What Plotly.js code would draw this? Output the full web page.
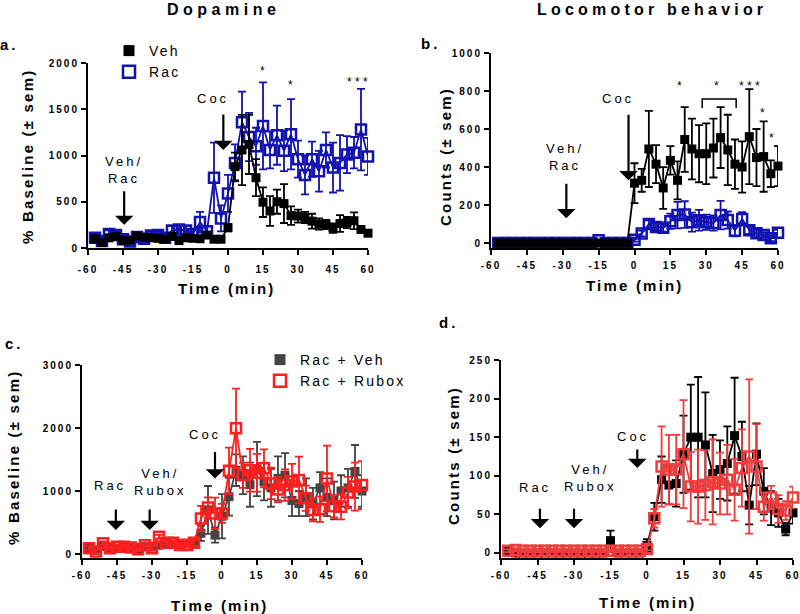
<!DOCTYPE html>
<html><head><meta charset="utf-8">
<script src="https://cdn.plot.ly/plotly-3.0.1.min.js"></script>
<style>
body{margin:0;background:#fff}
#chart{width:800px;height:614px}
</style></head><body><div id="chart"></div>
<script>
// ---------- DATA ----------
const time = [-57,-54,-51,-48,-45,-42,-39,-36,-33,-30,-27,-24,-21,-18,-15,-12,-9,-6,-3,0,3,6,9,12,15,18,21,24,27,30,33,36,39,42,45,48,51,54,57,60];
const xTickVals = [-60,-45,-30,-15,0,15,30,45,60];
const xTickText = ['-60','-45','-30','-15','0','15','30','45','60'];
const yTicksA = [0,500,1000,1500,2000];
const yTicksB = [0,200,400,600,800,1000];
const yTicksC = [0,1000,2000,3000];
const yTicksD = [0,50,100,150,200,250];

// a. Dopamine (% baseline)
const daVeh    = [100,60,110,125,80,85,130,115,110,105,95,125,80,110,105,100,140,95,95, 220,880,1060,1120,760,495,400,500,480,350,345,330,290,260,255,215,265,275,295,200,160];
const daVehSem = [30,25,30,25,25,20,30,25,25,20,20,30,25,25,20,25,30,20,20, 40,150,380,320,200,160,160,130,210,100,70,60,80,60,50,50,90,60,90,40,30];
const daRac    = [110,75,150,140,95,70,120,100,135,140,110,190,200,190,150,280,180,760,320, 590,920,1360,1200,1100,1320,1060,1220,1050,1230,960,790,960,830,1060,870,920,1010,1030,1280,990];
const daRacSem = [40,40,40,40,40,40,40,40,40,40,40,50,50,50,50,110,60,380,140, 200,200,330,260,200,470,200,320,220,380,200,210,190,220,190,270,300,200,170,440,200];

// b. Locomotor counts
const locVeh    = [0,0,0,0,0,0,0,0,0,0,0,0,0,0,0,0,0,0,0, 315,330,495,415,290,435,330,545,495,470,470,500,555,490,415,400,560,450,455,365,405];
const locVehSem = [0,0,0,0,0,0,0,0,0,0,0,0,0,0,0,0,0,0,0, 105,60,200,100,110,75,100,170,160,150,160,155,160,185,130,135,250,150,185,70,105];
const locRac    = [0,0,0,0,0,0,0,0,0,0,0,0,0,0,15,0,0,0,0, 18,50,100,85,80,115,147,150,110,120,110,105,147,121,65,127,68,51,42,25,54];
const locRacSem = [0,0,0,0,0,0,0,0,0,0,0,0,0,0,0,0,0,0,0, 10,15,20,20,20,40,70,70,50,55,40,40,75,45,30,35,20,20,15,15,15];

// c. Dopamine (% baseline), Rac + Veh vs Rac + Rubox
const cVeh    = [90,60,120,100,90,110,100,80,120,110,140,170,160,150,170,180,330,700,300, 600,910,1330,1250,1100,1350,1150,1050,1200,1250,850,800,900,800,1050,900,850,1000,1050,1310,1000];
const cVehSem = [50,40,50,40,40,40,40,40,40,40,40,50,40,40,50,60,120,380,120, 350,300,250,300,350,430,300,300,350,350,250,200,300,250,250,300,300,250,300,420,250];
const cRub    = [90,40,170,90,115,115,105,75,140,90,275,180,180,145,145,180,565,740,645, 645,1320,1995,1250,1330,1290,1360,1120,1025,1095,1150,1175,885,700,710,1200,760,750,975,1070,1095];
const cRubSem = [30,30,30,30,30,30,30,30,30,30,30,30,30,30,30,50,200,160,250, 150,370,630,200,340,300,300,250,200,250,280,370,200,180,200,520,180,200,250,380,380];

// d. Locomotor counts, Rac + Veh vs Rac + Rubox
const dVeh    = [2,0,0,0,0,0,0,0,0,0,0,0,0,0,16,0,0,0,0, 10,47,95,88,90,128,150,150,140,103,108,116,152,125,62,128,80,58,52,31,52];
const dVehSem = [0,0,0,0,0,0,0,0,0,0,0,0,0,0,13,0,0,0,0, 8,18,30,25,30,50,68,78,68,50,38,48,75,45,25,40,30,22,18,8,14];
const dRub    = [3,4,3,3,3,3,3,3,3,3,3,3,3,3,3,3,3,3,3, 5,45,112,108,108,128,86,86,88,92,90,95,82,110,125,112,60,72,57,55,72];
const dRubSem = [2,2,2,2,2,2,2,2,2,2,2,2,2,2,2,2,2,2,2, 5,12,52,45,45,70,45,48,45,55,40,45,40,50,100,55,18,15,18,12,14];

// ---------- STYLE ----------
const FF = 'Liberation Sans, Arial, sans-serif';
const BLUE = '#1212b0', RED = '#ff1f1f', RED2 = '#f03c3c', GRAY = '#444444', BLACK = '#000000';
const W = 800, H = 614;

function ls(t, px) { return '<span style="letter-spacing:' + px + 'px">' + t + '</span>'; }

function series(y, e, ax, color, open, name) {
  const s = ax === 1 ? '' : String(ax);
  return {
    x: time, y: y, xaxis: 'x' + s, yaxis: 'y' + s, type: 'scatter', mode: 'lines+markers',
    name: name, showlegend: false, cliponaxis: false,
    line: {color: color, width: 1.8},
    marker: {symbol: open ? 'square-open' : 'square', size: open ? 10 : 9, color: color,
             line: {color: color, width: open ? 2.5 : 0}},
    error_y: {type: 'data', array: e, visible: true, color: color, thickness: 1.8, width: 4}
  };
}
function legendItem(name, ax, color, open, leg) {
  const s = ax === 1 ? '' : String(ax);
  return {x: [null], y: [null], xaxis: 'x' + s, yaxis: 'y' + s, type: 'scatter', mode: 'markers',
    name: ls(name, 2.2), legend: leg, showlegend: true,
    marker: {symbol: open ? 'square-open' : 'square', size: open ? 12 : 11, color: color,
             line: {color: color, width: open ? 2.5 : 0}}};
}

const data = [
  series(daRac, daRacSem, 1, BLUE, true, 'Rac'),
  series(daVeh, daVehSem, 1, BLACK, false, 'Veh'),
  series(locRac, locRacSem, 2, BLUE, true, 'Rac'),
  series(locVeh, locVehSem, 2, BLACK, false, 'Veh'),
  series(cVeh, cVehSem, 3, GRAY, false, 'Rac + Veh'),
  series(cRub, cRubSem, 3, RED, true, 'Rac + Rubox'),
  series(dVeh, dVehSem, 4, BLACK, false, 'Rac + Veh'),
  series(dRub, dRubSem, 4, RED2, true, 'Rac + Rubox'),
  legendItem('Veh', 1, BLACK, false, 'legend'),
  legendItem('Rac', 1, BLUE, true, 'legend'),
  legendItem('Rac + Veh', 3, GRAY, false, 'legend2'),
  legendItem('Rac + Rubox', 3, RED, true, 'legend2')
];

const tickFont = {family: FF, size: 10, color: '#000', weight: 'bold'};
function xAxis(x0, x1, anchor, standoff) {
  return {domain: [x0 / W, x1 / W], anchor: anchor, range: [-60, 60],
    tickmode: 'array', tickvals: xTickVals, ticktext: xTickText.map(t => ls(t, 2)),
    showline: true, linewidth: 2, linecolor: '#000', ticks: 'outside', ticklen: 5, tickwidth: 2,
    tickcolor: '#000', showgrid: false, zeroline: false, fixedrange: true, ticklabelstandoff: standoff,
    ticklabeloverflow: 'allow', tickfont: tickFont};
}
function yAxis(yBot, yTop, range, ticks, anchor) {
  return {domain: [1 - yBot / H, 1 - yTop / H], anchor: anchor, range: range,
    tickmode: 'array', tickvals: ticks, ticktext: ticks.map(t => ls(String(t), 2)),
    showline: true, linewidth: 2, linecolor: '#000', ticks: 'outside', ticklen: 5, tickwidth: 2,
    tickcolor: '#000', showgrid: false, zeroline: false, fixedrange: true,
    ticklabeloverflow: 'allow', tickfont: tickFont};
}

function txt(text, px, py, size, bold, extra) {
  return Object.assign({xref: 'paper', yref: 'paper', x: px / W, y: 1 - py / H, text: text,
    showarrow: false, xanchor: 'center', yanchor: 'middle',
    font: {family: FF, size: size, color: '#000', weight: bold ? 'bold' : 'normal'}}, extra || {});
}
function arrow(ax, x, y, dy) {
  const s = ax === 1 ? '' : String(ax);
  return {xref: 'x' + s, yref: 'y' + s, x: x, y: y, ax: 0, ay: dy, text: '', showarrow: true,
    arrowhead: 1, arrowsize: 1.4, arrowwidth: 2.2, arrowcolor: '#000'};
}
function star(ax, t, x, y, size) {
  const s = ax === 1 ? '' : String(ax);
  return {xref: 'x' + s, yref: 'y' + s, x: x, y: y, text: t, showarrow: false,
    xanchor: 'center', yanchor: 'middle', font: {family: FF, size: size || 12, color: '#000'}};
}

const annotations = [
  txt(ls('Dopamine', 4.5), 223, 9, 16, true),
  txt(ls('Locomotor behavior', 4.2), 652, 9, 16, true),
  txt(ls('a.', 3), 9, 44, 15, true),
  txt(ls('b.', 3), 430, 43, 15, true),
  txt(ls('c.', 3), 14, 343, 15, true),
  txt(ls('d.', 3), 448, 322, 15, true),
  // axis titles
  txt(ls('% Baseline (± sem)', 2.2), 27, 157, 15, true, {textangle: -90}),
  txt(ls('Counts (± sem)', 2.2), 445, 157, 15, true, {textangle: -90}),
  txt(ls('% Baseline (± sem)', 2.2), 13, 458, 15, true, {textangle: -90}),
  txt(ls('Counts (± sem)', 2.2), 453, 456, 15, true, {textangle: -90}),
  txt(ls('Time (min)', 2.2), 227, 288, 15, true),
  txt(ls('Time (min)', 2.2), 635, 285, 15, true),
  txt(ls('Time (min)', 2.2), 220, 605, 15, true),
  txt(ls('Time (min)', 2.2), 648, 602, 15, true),
  // event labels
  txt(ls('Veh/', 3) + '<br>' + ls('Rac', 3), 124, 170, 13, false),
  txt(ls('Coc', 3), 213, 99, 13, false),
  txt(ls('Veh/', 3) + '<br>' + ls('Rac', 3), 565, 157, 13, false),
  txt(ls('Coc', 3), 618, 99, 13, false),
  txt(ls('Rac', 3), 110, 485, 13, false),
  txt(ls('Veh/', 3) + '<br>' + ls('Rubox', 3), 160, 482, 13, false),
  txt(ls('Coc', 3), 205, 434, 13, false),
  txt(ls('Rac', 3), 535, 487, 13, false),
  txt(ls('Veh/', 3) + '<br>' + ls('Rubox', 3), 590, 478, 13, false),
  txt(ls('Coc', 3), 633, 436, 13, false),
  // arrows
  arrow(1, -44.5, 250, -35),
  arrow(1, -2, 1060, -37),
  arrow(2, -28.5, 130, -36),
  arrow(2, -2.5, 330, -67),
  arrow(3, -45.5, 380, -22),
  arrow(3, -31, 380, -22),
  arrow(3, -3, 1200, -28),
  arrow(4, -44, 32, -21),
  arrow(4, -30, 32, -21),
  arrow(4, -4, 110, -20),
  // significance
  star(1, '*', 14.6, 1913), star(1, '*', 26.6, 1762), star(1, '* * *', 55.7, 1795), star(1, '*', 60.4, 1400),
  star(2, '*', 18.7, 826), star(2, '*', 34.1, 826), star(2, '* * *', 48, 826), star(2, '*', 53.4, 684), star(2, '*', 57.2, 552)
];

const layout = {
  width: W, height: H, margin: {l: 0, r: 0, t: 0, b: 0},
  paper_bgcolor: '#fff', plot_bgcolor: 'rgba(0,0,0,0)',
  font: {family: FF, color: '#000'},
  showlegend: true,
  xaxis: xAxis(88, 368, 'y', 6),
  yaxis: yAxis(248, 63, [0, 2000], yTicksA, 'x'),
  xaxis2: xAxis(491, 778, 'y2', 2),
  yaxis2: yAxis(248, 53, [-26, 1000], yTicksB, 'x2'),
  xaxis3: xAxis(82, 362, 'y3', 2),
  yaxis3: yAxis(558, 365, [-63, 3000], yTicksC, 'x3'),
  xaxis4: xAxis(501, 793, 'y4', 2),
  yaxis4: yAxis(558, 360, [-6.5, 250], yTicksD, 'x4'),
  legend: {x: 109 / W, y: 1 - 35 / H, xanchor: 'left', yanchor: 'top', bgcolor: 'rgba(0,0,0,0)',
    font: {family: FF, size: 14, color: '#000'}, tracegroupgap: 0},
  legend2: {x: 260 / W, y: 1 - 344 / H, xanchor: 'left', yanchor: 'top', bgcolor: 'rgba(0,0,0,0)',
    font: {family: FF, size: 14, color: '#000'}, tracegroupgap: 0},
  shapes: [
    {type: 'path', xref: 'x2', yref: 'y2', path: 'M 28.3 710 L 28.3 758 L 42.5 758 L 42.5 710',
     line: {color: '#000', width: 1.5}}
  ],
  annotations: annotations
};

Plotly.newPlot('chart', data, layout, {staticPlot: true, displayModeBar: false});
</script></body></html>
